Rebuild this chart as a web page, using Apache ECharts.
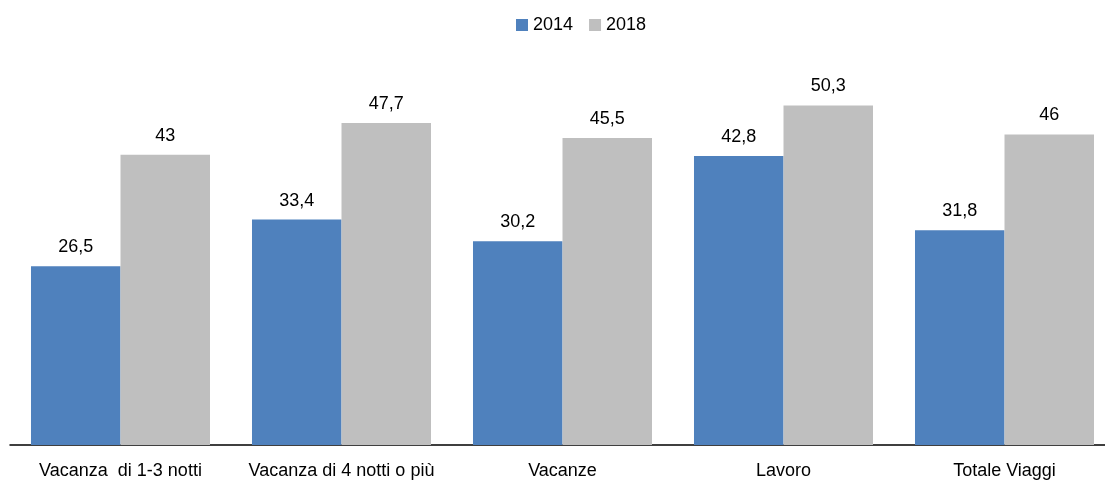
<!DOCTYPE html>
<html>
<head>
<meta charset="utf-8">
<script src="https://cdn.jsdelivr.net/npm/echarts@6/dist/echarts.min.js"></script>
<style>
  html, body { margin: 0; padding: 0; background: #fff; }
  #chart { width: 1105px; height: 485px; }
</style>
</head>
<body>
<div id="chart"></div>
<script>
var categories = ['Vacanza  di 1-3 notti', 'Vacanza di 4 notti o più', 'Vacanze', 'Lavoro', 'Totale Viaggi'];
var values2014 = [26.5, 33.4, 30.2, 42.8, 31.8];
var values2018 = [43, 47.7, 45.5, 50.3, 46];

var font = '"Liberation Sans Narrow", "Arial Narrow", "Liberation Sans", Arial, sans-serif';

function fmt(p) {
    return String(p.value).replace('.', ',');
}

var chart = echarts.init(document.getElementById('chart'));
chart.setOption({
    animation: false,
    legend: {
        top: 11,
        left: 511,
        itemWidth: 12,
        itemHeight: 12,
        itemGap: 16,
        itemTextGap: 5,
        icon: 'rect',
        textStyle: { fontFamily: font, fontSize: 18, color: '#000' },
        data: ['2014', '2018']
    },
    grid: { left: 10, width: 1105, top: 40, bottom: 40, containLabel: false, outerBoundsMode: 'none' },
    xAxis: {
        type: 'category',
        data: categories,
        axisLine: { lineStyle: { color: '#000', width: 1.5 } },
        axisTick: { show: false },
        axisLabel: { color: '#000', fontFamily: font, fontSize: 18, margin: 17, interval: 0 }
    },
    yAxis: {
        type: 'value',
        min: 0,
        max: 60,
        show: false,
        splitLine: { show: false }
    },
    series: [
        {
            name: '2014',
            type: 'bar',
            data: values2014,
            barGap: '0%',
            barCategoryGap: '19%',
            itemStyle: { color: '#4f81bd' },
            label: { show: true, position: 'top', distance: 10, formatter: fmt,
                     color: '#000', fontFamily: font, fontSize: 18 }
        },
        {
            name: '2018',
            type: 'bar',
            data: values2018,
            itemStyle: { color: '#bfbfbf' },
            label: { show: true, position: 'top', distance: 10, formatter: fmt,
                     color: '#000', fontFamily: font, fontSize: 18 }
        }
    ]
});
</script>
</body>
</html>
